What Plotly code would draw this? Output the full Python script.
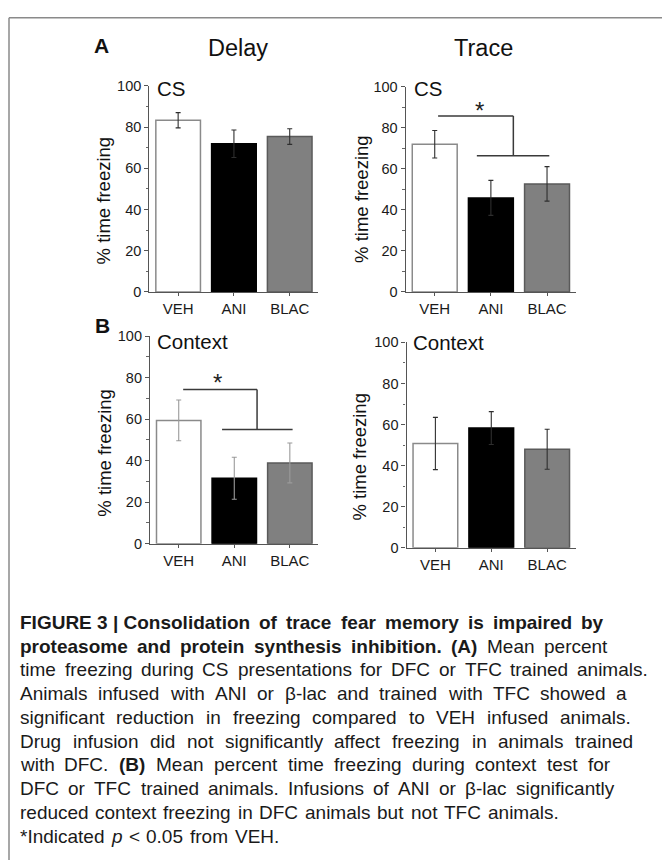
import plotly.graph_objects as go

# ---------------- data ----------------
groups = ["VEH", "ANI", "BLAC"]
y_ticks = [0, 20, 40, 60, 80, 100]

delay_cs = [83.3, 71.9, 75.4]
delay_cs_err = [3.7, 6.7, 3.8]
trace_cs = [71.9, 45.8, 52.6]
trace_cs_err = [6.7, 8.5, 8.4]
delay_ctx = [59.4, 31.5, 38.9]
delay_ctx_err = [9.8, 10.1, 9.6]
trace_ctx = [50.8, 58.3, 48.0]
trace_ctx_err = [12.7, 8.0, 9.7]

# significance brackets (values on the % axis)
trace_cs_sig_levels = [85.7, 66.3, 90.0]   # upper line, lower line, asterisk
delay_ctx_sig_levels = [74.3, 55.0, 79.2]

panel_titles = ["Delay", "Trace"]
panel_letters = ["A", "B"]
panel_labels = ["CS", "CS", "Context", "Context"]
y_title = "% time freezing"

caption_lines = [
    [("FIGURE\u00a03\u00a0|\u00a0Consolidation of trace fear memory is impaired by", "b")],
    [("proteasome and protein synthesis inhibition. (A)", "b"), ("Mean percent", "r")],
    [("time freezing during CS presentations for DFC or TFC trained animals.", "r")],
    [("Animals infused with ANI or \u03b2-lac and trained with TFC showed a", "r")],
    [("significant reduction in freezing compared to VEH infused animals.", "r")],
    [("Drug infusion did not significantly affect freezing in animals trained", "r")],
    [("with DFC.", "r"), ("(B)", "b"), ("Mean percent time freezing during context test for", "r")],
    [("DFC or TFC trained animals. Infusions of ANI or \u03b2-lac significantly", "r")],
    [("reduced context freezing in DFC animals but not TFC animals.", "r")],
    [("*Indicated", "r"), ("p", "i"), ("< 0.05 from VEH.", "r")],
]
caption_right = [603, 607, 648, 627, 631, 633, 610, 614, None, None]

# ---------------- layout helpers ----------------
W, H = 662, 868
FONT = "Liberation Sans, Arial, Helvetica, sans-serif"


def fx(px):
    return px / W


def fy(py):
    return 1 - py / H


fig = go.Figure()

panels = [
    # (values, errors, x px span, y px span (top=100, bottom=0), err colour)
    (delay_cs, delay_cs_err, (149.3, 318.0), (79.3, 289.3), "#2e2e2e"),
    (trace_cs, trace_cs_err, (405.7, 575.5), (80.0, 289.3), "#2e2e2e"),
    (delay_ctx, delay_ctx_err, (150.0, 318.0), (334.3, 545.7), "#9a9a9a"),
    (trace_ctx, trace_ctx_err, (406.5, 575.5), (340.7, 550.0), "#2e2e2e"),
]

bar_fill = ["#ffffff", "#000000", "#808080"]
bar_line = ["#8a8a8a", "#000000", "#5a5a5a"]

for i, (vals, errs, xs, ys, ecol) in enumerate(panels):
    k = "" if i == 0 else str(i + 1)
    fig.add_trace(go.Bar(
        x=groups, y=vals,
        xaxis="x" + k, yaxis="y" + k,
        width=0.8,
        marker=dict(color=bar_fill, line=dict(color=bar_line, width=1.5)),
        error_y=dict(type="data", array=errs, visible=True,
                     color=ecol, thickness=1.1, width=2.5),
        showlegend=False, hoverinfo="skip",
    ))
    fig.layout["xaxis" + k] = dict(
        domain=[fx(xs[0]), fx(xs[1])], anchor="y" + k,
        type="category", range=[-0.517, 2.507],
        showline=True, linecolor="#555", linewidth=1.2,
        ticks="outside", ticklen=3, tickwidth=1, tickcolor="#555",
        tickfont=dict(family=FONT, size=15, color="#1a1a1a"),
        showgrid=False, zeroline=False, fixedrange=True,
    )
    fig.layout["yaxis" + k] = dict(
        domain=[fy(ys[1]), fy(ys[0])], anchor="x" + k,
        range=[0, 100], tickvals=y_ticks,
        showline=True, linecolor="#555", linewidth=1.2,
        ticks="outside", ticklen=4, tickwidth=1, tickcolor="#555",
        minor=dict(dtick=10, ticks="outside", ticklen=2.5, tickcolor="#666", tickwidth=1),
        tickfont=dict(family=FONT, size=14.5, color="#1a1a1a"),
        showgrid=False, zeroline=False, fixedrange=True,
    )

# ---------------- significance brackets ----------------
def bracket(k, levels, up_x, low_x, star_x):
    xr, yr = "x" + k, "y" + k
    up, low, star = levels
    line = dict(color="#3a3a3a", width=1.5)
    fig.add_shape(type="line", xref=xr, yref=yr, x0=up_x[0], x1=up_x[1], y0=up, y1=up, line=line)
    fig.add_shape(type="line", xref=xr, yref=yr, x0=up_x[1], x1=up_x[1], y0=up, y1=low, line=line)
    fig.add_shape(type="line", xref=xr, yref=yr, x0=low_x[0], x1=low_x[1], y0=low, y1=low, line=line)
    fig.add_annotation(xref=xr, yref=yr, x=star_x, y=star, text="*", showarrow=False,
                       font=dict(family=FONT, size=24, color="#222"), yshift=-3)


bracket("2", trace_cs_sig_levels, (0.06, 1.4), (0.75, 2.04), 0.79)
bracket("3", delay_ctx_sig_levels, (0.08, 1.41), (0.78, 2.05), 0.70)

# ---------------- texts ----------------
def text(px, py, s, size, xanchor="center", angle=0, bold=False):
    fig.add_annotation(xref="paper", yref="paper", x=fx(px), y=fy(py),
                       text=("<b>%s</b>" % s) if bold else s, showarrow=False,
                       xanchor=xanchor, yanchor="middle", textangle=angle,
                       font=dict(family=FONT, size=size, color="#111"))


text(101.7, 38.5, panel_letters[0], 21, bold=True)
text(102.5, 323, panel_letters[1], 21, bold=True)
text(238, 41, panel_titles[0], 23.5)
text(483, 41, panel_titles[1], 23.5)
text(154.5, 82, panel_labels[0], 20.5, xanchor="left")
text(411.5, 82, panel_labels[1], 20.5, xanchor="left")
text(154.5, 340, panel_labels[2], 20.5, xanchor="left")
text(411.0, 341, panel_labels[3], 20.5, xanchor="left")
text(103, 196, y_title, 18.5, angle=-90)
text(361.5, 195, y_title, 18.5, angle=-90)
text(105, 453, y_title, 18.5, angle=-90)
text(360, 457, y_title, 18.5, angle=-90)

# ---------------- caption (justified, word by word) ----------------
REG = {" ": 278, "\u00a0": 278, "*": 389, "(": 333, ")": 333, ",": 278, "-": 333, ".": 278,
       "<": 584, "|": 260, "\u03b2": 575,
       "A": 667, "B": 667, "C": 722, "D": 722, "E": 667, "F": 611, "G": 778, "H": 722,
       "I": 278, "M": 833, "N": 722, "R": 722, "S": 667, "T": 611, "U": 722, "V": 667,
       "a": 556, "b": 556, "c": 500, "d": 556, "e": 556, "f": 278, "g": 556, "h": 556,
       "i": 222, "j": 222, "k": 500, "l": 222, "m": 833, "n": 556, "o": 556, "p": 556,
       "q": 556, "r": 333, "s": 500, "t": 278, "u": 556, "v": 500, "w": 722, "x": 500,
       "y": 500, "z": 500}
BOLD = {" ": 278, "\u00a0": 278, "(": 333, ")": 333, ".": 278, "|": 280,
        "A": 722, "B": 722, "C": 722, "E": 667, "F": 611, "G": 778, "I": 278, "R": 722,
        "U": 722, "a": 556, "b": 611, "c": 556, "d": 611, "e": 556, "f": 333, "g": 611,
        "h": 611, "i": 278, "l": 278, "m": 889, "n": 611, "o": 611, "p": 611, "r": 389,
        "s": 556, "t": 333, "u": 611, "y": 556}
CAP_SIZE = 19
CAP_LEFT = 20
CAP_TOP = 626
CAP_STEP = 24.2


def word_width(w, style):
    tab = BOLD if style == "b" else REG
    return sum(tab.get(c, 556) for c in w) * CAP_SIZE / 1000.0


for li, segs in enumerate(caption_lines):
    words = []
    for seg, st in segs:
        for w in seg.split(" "):
            words.append((w, st))
    widths = [word_width(w, st) for w, st in words]
    right = caption_right[li]
    if right is not None and len(words) > 1:
        gap = (right - CAP_LEFT - sum(widths)) / (len(words) - 1)
    else:
        gap = 0.278 * CAP_SIZE + 1.5
    x = CAP_LEFT
    py = CAP_TOP + li * CAP_STEP
    for (w, st), wd in zip(words, widths):
        if st == "b":
            t = "<b>%s</b>" % w
        elif st == "i":
            t = "<i>%s</i>" % w
        else:
            t = w
        fig.add_annotation(xref="paper", yref="paper", x=fx(x - 2), y=fy(py), text=t,
                           showarrow=False, xanchor="left", yanchor="middle",
                           font=dict(family=FONT, size=CAP_SIZE, color="#1a1a1a"))
        x += wd + gap

# ---------------- frame ----------------
frame = dict(color="#8a8a8a", width=1.5)
fig.add_shape(type="line", xref="paper", yref="paper", x0=fx(9), x1=fx(662), y0=fy(10), y1=fy(10), line=frame)
fig.add_shape(type="line", xref="paper", yref="paper", x0=fx(9), x1=fx(9), y0=fy(10), y1=fy(868), line=frame)

fig.update_layout(
    width=W, height=H,
    margin=dict(l=0, r=0, t=0, b=0),
    paper_bgcolor="white", plot_bgcolor="rgba(0,0,0,0)",
    bargap=0.2,
    font=dict(family=FONT),
)

fig.write_html(
    "out.html",
    config={"displayModeBar": False},
    post_script="document.body.style.margin='0';document.body.style.overflow='hidden';",
)
